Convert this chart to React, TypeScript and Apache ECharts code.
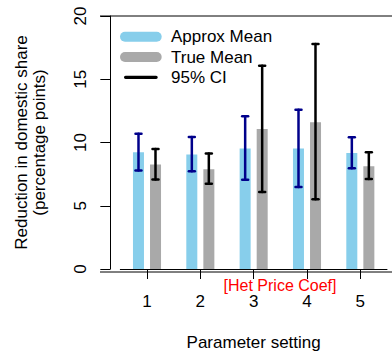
import React, { useEffect, useRef } from "react";
import * as echarts from "echarts";

const categories = ["1", "2", "3", "4", "5"];
const approxMean = [9.22, 9.06, 9.53, 9.53, 9.17];
const trueMean = [8.26, 7.89, 11.07, 11.61, 8.13];
const approxLow = [7.79, 7.73, 7.06, 6.48, 7.97];
const approxHigh = [10.7, 10.44, 12.08, 12.58, 10.42];
const trueLow = [7.08, 6.74, 6.09, 5.52, 7.11];
const trueHigh = [9.48, 9.14, 16.07, 17.79, 9.22];

const FONT = "'Liberation Sans', Arial, Helvetica, sans-serif";
const BLUE = "#87CEEB";
const GRAY = "#A9A9A9";
const NAVY = "#00008B";

const capsule =
  "path://M0 0 M46 10 M5 0 L36.7 0 A5 5 0 0 1 36.7 10 L5 10 A5 5 0 0 1 5 0 Z";
const ciIcon =
  "path://M0 0 M46 10 M5.6 3.35 L36.1 3.35 A1.65 1.65 0 0 1 36.1 6.65 L5.6 6.65 A1.65 1.65 0 0 1 5.6 3.35 Z";

export default function App() {
  const ref = useRef<HTMLDivElement>(null);
  useEffect(() => {
    if (!ref.current) return;
    const chart = echarts.init(ref.current, null, { renderer: "svg" });
    const ciData: number[][] = [];
    categories.forEach((_, i) => {
      ciData.push([i, approxLow[i], approxHigh[i], 0]);
      ciData.push([i, trueLow[i], trueHigh[i], 1]);
    });
    const option: any = {
      animation: false,
      textStyle: { fontFamily: FONT },
      grid: { left: 120.33, right: 5, top: 16, bottom: 84, containLabel: false },
      legend: {
        orient: "vertical",
        left: 120,
        top: 26.7,
        padding: 0,
        itemWidth: 46,
        itemHeight: 10,
        itemGap: 0.3,
        selectedMode: false,
        textStyle: { fontSize: 17, color: "#000", fontFamily: FONT, lineHeight: 20 },
        data: [
          { name: "Approx Mean", icon: capsule },
          { name: "True Mean", icon: capsule },
          { name: "95% CI", icon: ciIcon },
        ],
      },
      xAxis: {
        type: "category",
        data: categories,
        boundaryGap: true,
        axisLine: { show: true, lineStyle: { color: "#000", width: 1 } },
        axisTick: { show: true, alignWithLabel: true, length: 10, lineStyle: { color: "#000" } },
        axisLabel: { fontSize: 17, color: "#000", margin: 24, lineHeight: 17, fontFamily: FONT },
        name: "Parameter setting",
        nameLocation: "middle",
        nameGap: 65,
        nameTextStyle: { fontSize: 17, color: "#000", fontFamily: FONT },
      },
      yAxis: {
        type: "value",
        min: 0,
        max: 20,
        interval: 5,
        offset: 10,
        splitLine: { show: false },
        axisLine: { show: true, lineStyle: { color: "#000", width: 1 } },
        axisTick: { show: true, length: 10, lineStyle: { color: "#000" } },
        axisLabel: { rotate: 90, fontSize: 17, color: "#000", margin: 21, fontFamily: FONT },
        name: "Reduction in domestic share\n(percentage points)",
        nameLocation: "middle",
        nameRotate: 90,
        nameGap: 62,
        nameTextStyle: { fontSize: 17, color: "#000", lineHeight: 18, fontFamily: FONT },
      },
      series: [
        {
          name: "Approx Mean",
          type: "bar",
          data: approxMean,
          barWidth: 11,
          barGap: "55%",
          z: 2,
          itemStyle: { color: BLUE },
        },
        {
          name: "True Mean",
          type: "bar",
          data: trueMean,
          barWidth: 11,
          z: 2,
          itemStyle: { color: GRAY },
        },
        {
          name: "95% CI",
          type: "custom",
          z: 5,
          itemStyle: { color: "#000" },
          encode: { x: 0, y: [1, 2] },
          data: ciData,
          renderItem: (params: any, api: any) => {
            const idx = api.value(0);
            const lo = api.coord([idx, api.value(1)]);
            const hi = api.coord([idx, api.value(2)]);
            const g = api.value(3);
            const cx = lo[0] + (g === 0 ? -8.5 : 8.5);
            const color = g === 0 ? NAVY : "#000";
            const style = { stroke: color, lineWidth: 2.5, lineCap: "round" };
            return {
              type: "group",
              children: [
                { type: "line", shape: { x1: cx, y1: hi[1], x2: cx, y2: lo[1] }, style },
                { type: "line", shape: { x1: cx - 3, y1: hi[1], x2: cx + 3, y2: hi[1] }, style },
                { type: "line", shape: { x1: cx - 3, y1: lo[1], x2: cx + 3, y2: lo[1] }, style },
              ],
            };
          },
        },
      ],
      graphic: [
        { type: "line", shape: { x1: 100, y1: 16, x2: 392, y2: 16 }, style: { stroke: "#000", lineWidth: 1 } },
        { type: "line", shape: { x1: 100, y1: 272, x2: 392, y2: 272 }, style: { stroke: "#000", lineWidth: 1 } },
        {
          type: "text",
          x: 280,
          y: 285.3,
          style: {
            text: "[Het Price Coef]",
            fill: "#FF0000",
            fontSize: 16,
            lineHeight: 15,
            fontFamily: FONT,
            align: "center",
            verticalAlign: "middle",
          },
        },
      ],
    };
    chart.setOption(option);
    return () => chart.dispose();
  }, []);
  return (
    <div
      ref={ref}
      style={{ position: "fixed", left: 0, top: 0, width: 392, height: 356, background: "#fff" }}
    />
  );
}
